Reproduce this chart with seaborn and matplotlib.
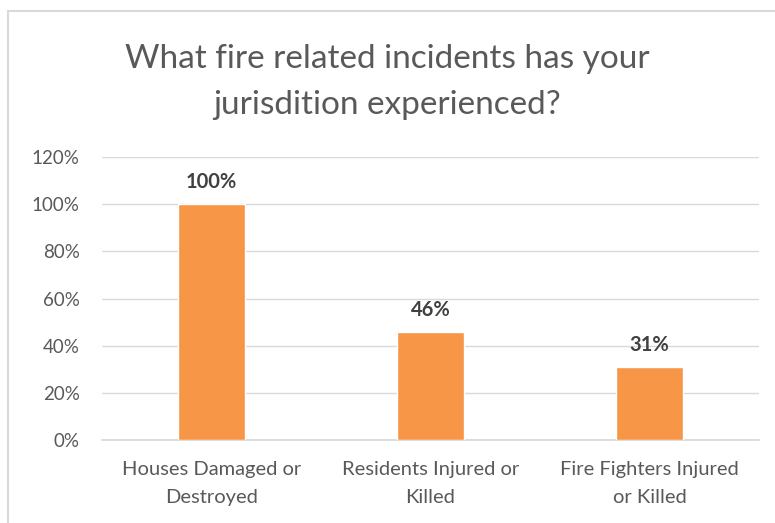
import matplotlib
matplotlib.use("Agg")
import matplotlib.pyplot as plt
import seaborn as sns
import pandas as pd
from matplotlib.lines import Line2D

# Daten
kategorien = ["Houses Damaged or\nDestroyed", "Residents Injured or\nKilled", "Fire Fighters Injured\nor Killed"]
anteile = [100, 46, 31]
y_ticks = [0, 20, 40, 60, 80, 100, 120]
titel = "What fire related incidents has your\njurisdition experienced?"

df = pd.DataFrame({"Kategorie": kategorien, "Anteil": anteile})

sns.set_theme(style="white")
plt.rcParams["font.family"] = ["Lato", "DejaVu Sans"]

W, H = 775, 523
fig = plt.figure(figsize=(W / 100, H / 100), dpi=100)
ax = fig.add_axes([102 / W, 1 - 440 / H, 657 / W, (440 - 157) / H])

sns.barplot(data=df, x="Kategorie", y="Anteil", color="#F79646", width=0.31,
            saturation=1, ax=ax, zorder=3)

ax.set_ylim(0, 120)
ax.set_yticks(y_ticks)
ax.set_yticklabels([f"{t}%" for t in y_ticks])
ax.yaxis.grid(True, color="#D9D9D9", linewidth=1, zorder=0)
ax.set_axisbelow(True)
for s in ["top", "right", "left"]:
    ax.spines[s].set_visible(False)
ax.spines["bottom"].set_color("#D9D9D9")
ax.tick_params(axis="y", length=0, labelsize=13.5, colors="#595959", pad=16)
ax.tick_params(axis="x", length=0, labelsize=14.5, colors="#595959", pad=15)
for lbl in ax.get_xticklabels():
    lbl.set_linespacing(1.8)
ax.set_xlabel("")
ax.set_ylabel("")

for p, v in zip(ax.patches, anteile):
    ax.text(p.get_x() + p.get_width() / 2, v + 5, f"{v}%", ha="center", va="bottom",
            fontsize=14.5, fontweight="bold", color="#404040")

fig.text(0.5, 1 - 82 / H, titel, ha="center", va="center", fontsize=24,
         color="#595959", linespacing=1.65)

# Rahmen links und oben
fig.add_artist(Line2D([8 / W, 8 / W], [0, 1 - 11 / H], color="#D9D9D9", linewidth=1.5, transform=fig.transFigure))
fig.add_artist(Line2D([8 / W, 1], [1 - 11 / H, 1 - 11 / H], color="#D9D9D9", linewidth=1.5, transform=fig.transFigure))

fig.savefig("out.png", dpi=100)
